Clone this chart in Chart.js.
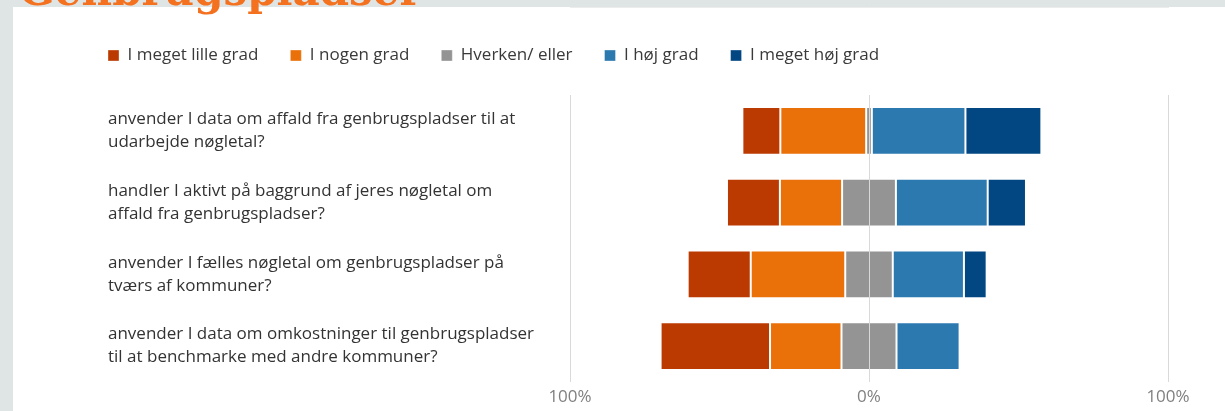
<!DOCTYPE html>
<html lang="da">
<head>
<meta charset="UTF-8">
<title>Genbrugspladser</title>
<script src="https://cdn.jsdelivr.net/npm/chart.js"></script>
<style>
  html, body { margin: 0; padding: 0; }
  body {
    width: 1225px;
    height: 411px;
    background: #dfe5e4;
    position: relative;
    overflow: hidden;
  }
  .panel {
    position: absolute;
    left: 13px;
    top: 7px;
    width: 1212px;
    height: 404px;
    background: #fff;
  }
  h1 {
    position: absolute;
    left: 19px;
    top: -30px;
    margin: 0;
    font: bold 42px/42px "DejaVu Serif", serif;
    color: #f4711f;
    z-index: 2;
    white-space: nowrap;
  }
</style>
</head>
<body>
<h1>Genbrugspladser</h1>
<div class="panel">
  <canvas id="likertChart"></canvas>
</div>

<script>
// spørgsmål (to linjer pr. label)
const questions = [
  ['anvender I data om affald fra genbrugspladser til at', 'udarbejde nøgletal?'],
  ['handler I aktivt på baggrund af jeres nøgletal om', 'affald fra genbrugspladser?'],
  ['anvender I fælles nøgletal om genbrugspladser på', 'tværs af kommuner?'],
  ['anvender I data om omkostninger til genbrugspladser', 'til at benchmarke med andre kommuner?']
];

const answerLabels = ['I meget lille grad', 'I nogen grad', 'Hverken/ eller', 'I høj grad', 'I meget høj grad'];
const answerColors = ['#bb3a02', '#ea7009', '#949494', '#2c79b0', '#024782'];

// andele i procent
const megetLille = [12.7, 17.7, 21.1, 36.6];
const nogen      = [28.7, 20.8, 31.6, 23.9];
const hverken    = [1.9, 18.0, 15.9, 18.4];
const hoej       = [31.3, 30.7, 23.8, 21.1];
const megetHoej  = [25.4, 12.8, 7.6, 0];

const xTicks = [-100, 0, 100];

// divergerende bjælker: "hverken/eller" centreres om 0
const series = [megetLille, nogen, hverken, hoej, megetHoej];
const ranges = series.map(() => []);
questions.forEach((q, i) => {
  let x = -(megetLille[i] + nogen[i] + hverken[i] / 2);
  series.forEach((s, k) => {
    ranges[k].push(s[i] ? [x, x + s[i]] : null);
    x += s[i];
  });
});

const LEGEND_PAD = 32;

// flytter legenden helt ud til venstre kant og lidt op
const legendOffset = {
  id: 'legendOffset',
  afterLayout(chart) {
    const lg = chart.legend;
    lg.left -= LEGEND_PAD;
    lg.right -= LEGEND_PAD;
    lg.top -= 21;
    lg.bottom -= 21;
  }
};

Chart.defaults.font.family = '"Open Sans", "Noto Sans", sans-serif';

new Chart(document.getElementById('likertChart'), {
  type: 'bar',
  data: {
    labels: questions,
    datasets: series.map((s, k) => ({
      label: answerLabels[k],
      data: ranges[k],
      backgroundColor: answerColors[k],
      borderColor: 'rgba(255,255,255,0.35)',
      borderWidth: 1,
      borderSkipped: false,
      grouped: false,
      barPercentage: 0.667,
      categoryPercentage: 1
    }))
  },
  options: {
    indexAxis: 'y',
    responsive: true,
    maintainAspectRatio: false,
    animation: false,
    layout: { padding: { left: 95, right: 57, top: 29, bottom: 0 } },
    plugins: {
      legend: {
        position: 'top',
        align: 'start',
        labels: {
          boxWidth: 11,
          boxHeight: 11,
          padding: LEGEND_PAD,
          color: '#3a3a3a',
          font: { size: 17 }
        }
      },
      tooltip: { enabled: false }
    },
    scales: {
      x: {
        min: -100,
        max: 100,
        afterBuildTicks(scale) {
          scale.ticks = xTicks.map(v => ({ value: v }));
        },
        afterFit(scale) { scale.height = 29; },
        grid: { color: '#d9d9d9', drawTicks: false, z: 1 },
        border: { color: '#d9d9d9' },
        ticks: {
          padding: 5,
          color: '#808080',
          font: { size: 17 },
          callback: v => Math.abs(v) + '%'
        }
      },
      y: {
        afterFit(scale) { scale.width = 462; },
        grid: { display: false },
        border: { display: false },
        ticks: {
          crossAlign: 'far',
          color: '#333333',
          font: { size: 17, lineHeight: 1.35 }
        }
      }
    }
  },
  plugins: [legendOffset]
});
</script>
</body>
</html>
